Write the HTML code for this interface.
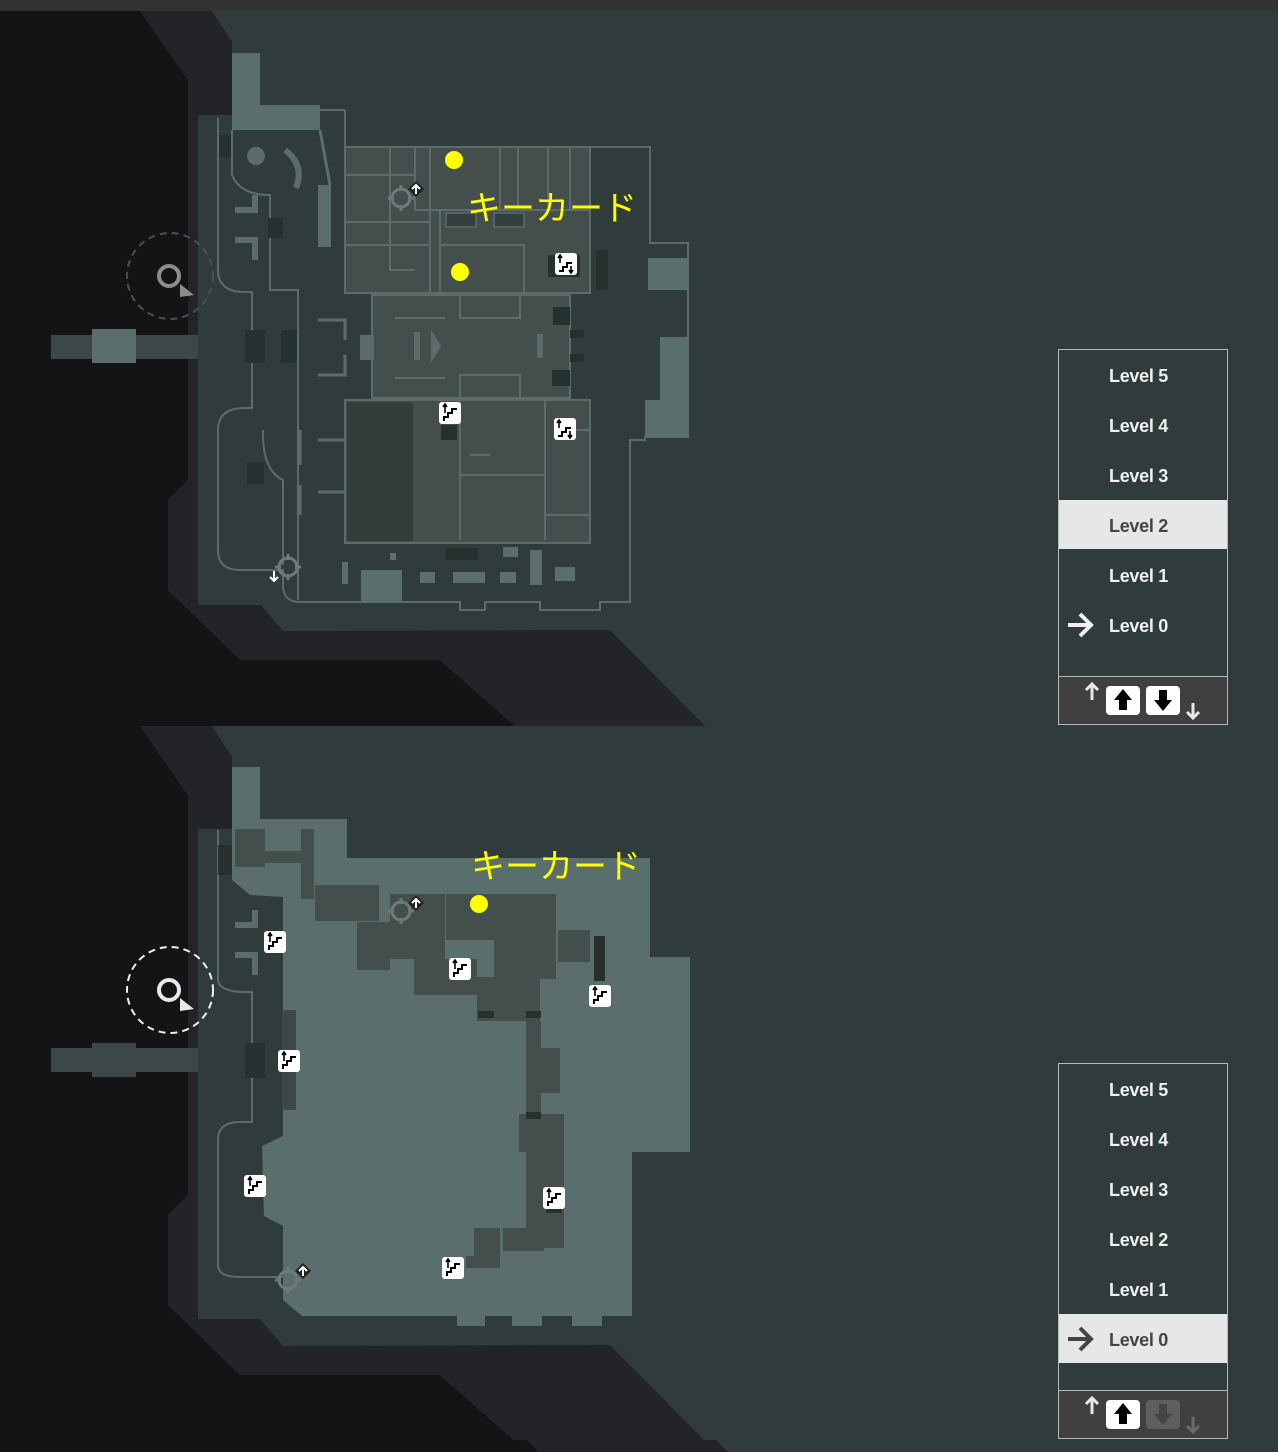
<!DOCTYPE html>
<html><head><meta charset="utf-8"><style>
html,body{margin:0;padding:0;background:#303c3b;}
svg{display:block}
.lv{font-family:"Liberation Sans",sans-serif;font-weight:bold;font-size:18px;fill:#f0f0f0;letter-spacing:-0.3px}
.jp{font-family:"Liberation Sans","Noto Sans CJK JP",sans-serif;font-size:34px;fill:#ffff00}
</style></head><body>
<svg width="1278" height="1452" viewBox="0 0 1278 1452" xmlns="http://www.w3.org/2000/svg">
<defs>
<g id="stair">
<rect x="-11" y="-11" width="22" height="22" rx="3" fill="#fff"/>
<path d="M-7,7 h4 v-4 h4 v-4 h5" fill="none" stroke="#000" stroke-width="2"/>
<path d="M-6,-1 v-7 M-8,-6 l2,-3 l2,3" fill="none" stroke="#000" stroke-width="1.6"/>
<path d="M5,2 v6 M3,6 l2,3 l2,-3" fill="none" stroke="#000" stroke-width="1.6"/>
</g>
<g id="stairU">
<rect x="-11" y="-11" width="22" height="22" rx="3" fill="#fff"/>
<path d="M-6,8 v-4 h4 v-4 h4 v-4 h5" fill="none" stroke="#000" stroke-width="2"/>
<path d="M-5,0 v-8 M-7,-6 l2,-3 l2,3" fill="none" stroke="#000" stroke-width="1.6"/>
</g>
<g id="cross">
<circle r="9" fill="none" stroke="#6e7a79" stroke-width="3"/>
<path d="M0,-13 v6 M0,7 v6 M-13,0 h6 M7,0 h6" stroke="#6e7a79" stroke-width="3"/>
</g>
<g id="bg">
<polygon points="0,0 140,0 188,69 188,469 168,489 168,579 240,649 440,649 515,715 0,715" fill="#141416"/>
<polygon points="140,0 212,0 232,31 232,560 283,620 610,619 705,715 515,715 440,649 240,649 168,579 168,489 188,469 188,69" fill="#232428"/>
</g>
</defs>
<rect x="0" y="0" width="1278" height="11" fill="#323232"/>
<rect x="0" y="11" width="1278" height="1441" fill="#303c3b"/>
<use href="#bg" transform="translate(0,11)"/>
<use href="#bg" transform="translate(0,726)"/>
<polygon points="0,1440 527,1440 539,1452 0,1452" fill="#141416"/>
<polygon points="527,1440 716,1440 728,1452 539,1452" fill="#232428"/>

<!-- ===== TOP MAP ===== -->
<g>
<rect x="51" y="335" width="170" height="24" fill="#3c4847"/>
<rect x="92" y="329" width="44" height="34" fill="#5a6e6c"/>
<rect x="198" y="115" width="102" height="490" fill="#303c3b"/>
<polygon points="232,53 260,53 260,105 320,105 320,130 232,130" fill="#5a6e6c"/>
<rect x="318" y="185" width="13" height="62" fill="#5a6e6c"/>
<path d="M320,130 L330,185" stroke="#5a6e6c" stroke-width="3"/>
<path d="M218,118 V270 Q218,292 245,292 H252 V408 H245 Q218,408 218,430 V550 Q218,570 240,570 H283 V585 Q283,602 300,602 H460 V610 H485 V602 H540 V610 H600 V602 H630 V440 H645 V437 H688 V243 H650 V147 H590" fill="none" stroke="#5b6c6a" stroke-width="2"/>
<path d="M232,130 V175 Q240,195 270,195 V290 H298 V600" fill="none" stroke="#5b6c6a" stroke-width="2"/>
<path d="M345,110 V147 M320,110 H345" fill="none" stroke="#5b6c6a" stroke-width="2"/>
<path d="M263,430 Q262,470 283,480 V565" fill="none" stroke="#5b6c6a" stroke-width="2"/>
<rect x="648" y="258" width="40" height="32" fill="#5a6e6c"/>
<rect x="660" y="337" width="28" height="100" fill="#5a6e6c"/>
<rect x="645" y="400" width="43" height="37" fill="#5a6e6c"/>
<rect x="596" y="250" width="12" height="40" fill="#26302f"/>
<rect x="345" y="147" width="245" height="146" fill="#434e4d" stroke="#5b6c6a" stroke-width="2"/>
<rect x="372" y="295" width="198" height="103" fill="#434e4d" stroke="#5b6c6a" stroke-width="2"/>
<rect x="360" y="335" width="14" height="25" fill="#5b6c6a"/>
<rect x="345" y="400" width="245" height="143" fill="#434e4d" stroke="#5b6c6a" stroke-width="2"/>
<rect x="347" y="402" width="66" height="139" fill="#323d3c"/>
<path d="M390,147 V270 M415,147 V210 M430,147 V293 M440,210 V293 M500,147 V210 M518,147 V210 M548,147 V210 M570,147 V210 M345,175 H415 M345,222 H430 M345,245 H430 M390,222 V270 H415 M440,245 H524 V293 M415,210 H590 M460,295 V318 H520 V295 M460,398 V375 H520 V398 M460,400 V540 M545,400 V540 M460,475 H545 M470,455 H490 M395,318 H445 M395,378 H445 M555,430 H590 M545,515 H590" fill="none" stroke="#5b6c6a" stroke-width="2"/>
<rect x="446" y="213" width="30" height="14" fill="#34403f" stroke="#5b6c6a" stroke-width="1.5"/>
<rect x="494" y="213" width="30" height="14" fill="#34403f" stroke="#5b6c6a" stroke-width="1.5"/>
<path d="M420,333 h-5 v26 h5 M432,333 l8,13 l-8,13z M543,335 h-5 v22 h5" fill="#5b6c6a" stroke="#5b6c6a" stroke-width="2"/>
<path d="M318,320 H345 V340 M318,375 H345 V355 M318,440 H345 M318,492 H345 M300,430 V465 M300,485 V515" fill="none" stroke="#5b6c6a" stroke-width="3"/>
<path d="M235,210 H255 V195 M235,240 H255 V260" fill="none" stroke="#5b6c6a" stroke-width="6"/>
<circle cx="256" cy="156" r="9" fill="#5b6c6a"/>
<path d="M285,150 Q305,165 296,188" fill="none" stroke="#5b6c6a" stroke-width="6"/>
<g fill="#26302f">
<rect x="219" y="135" width="12" height="22"/><rect x="268" y="218" width="15" height="20"/>
<rect x="245" y="330" width="20" height="33"/><rect x="281" y="330" width="16" height="33"/>
<rect x="247" y="462" width="17" height="22"/><rect x="553" y="307" width="17" height="18"/>
<rect x="552" y="370" width="18" height="16"/><rect x="570" y="330" width="14" height="8"/>
<rect x="570" y="354" width="14" height="8"/><rect x="441" y="425" width="16" height="15"/>
<rect x="446" y="548" width="32" height="12"/><rect x="548" y="255" width="32" height="22"/>
</g>
<g fill="#5a6e6c">
<rect x="361" y="570" width="41" height="32"/><rect x="420" y="572" width="15" height="11"/>
<rect x="453" y="572" width="32" height="11"/><rect x="500" y="572" width="16" height="11"/>
<rect x="555" y="567" width="20" height="14"/><rect x="530" y="550" width="12" height="35"/>
<rect x="390" y="553" width="6" height="7"/><rect x="342" y="562" width="6" height="22"/>
<rect x="503" y="547" width="15" height="10"/>
</g>
<circle cx="454" cy="160" r="9" fill="#ffff00"/>
<circle cx="460" cy="272" r="9" fill="#ffff00"/>
<text x="467" y="220" class="jp">キーカード</text>
<use href="#stair" x="566" y="264"/>
<use href="#stairU" x="450" y="413"/>
<use href="#stair" x="565" y="429"/>
<use href="#cross" x="401" y="198"/>
<path d="M416,181 l8,8 l-8,8 l-8,-8z" fill="#222"/><path d="M416,194 v-9 M412,189 l4,-4 l4,4" stroke="#fff" stroke-width="2" fill="none"/>
<use href="#cross" x="288" y="567"/>
<path d="M274,571 v9 M270,577 l4,4 l4,-4" stroke="#fff" stroke-width="2" fill="none"/>
<circle cx="170" cy="276" r="43" fill="none" stroke="#4a4f52" stroke-width="2" stroke-dasharray="7,5"/>
<circle cx="169" cy="276" r="10" fill="none" stroke="#8a8c8e" stroke-width="4"/>
<polygon points="180,284 194,295 180,297" fill="#8a8c8e"/>
</g>

<!-- ===== BOTTOM MAP ===== -->
<g>
<rect x="51" y="1048" width="170" height="24" fill="#3c4847"/>
<rect x="92" y="1043" width="44" height="34" fill="#3c4847"/>
<rect x="198" y="829" width="102" height="490" fill="#303c3b"/>
<polygon points="232,767 260,767 260,819 347,819 347,858 650,858 650,957 690,957 690,1152 632,1152 632,1316 302,1316 283,1300 283,1226 264,1216 262,1146 283,1136 283,897 250,895 232,880" fill="#5a6e6c"/>
<g fill="#5a6e6c"><rect x="457" y="1316" width="28" height="10"/><rect x="512" y="1316" width="30" height="10"/><rect x="572" y="1316" width="30" height="10"/></g>
<path d="M218,830 V980 Q218,990 240,992 H252 V1122 H240 Q218,1122 218,1140 V1265 Q218,1277 240,1277 H283" fill="none" stroke="#5b6c6a" stroke-width="2"/>
<rect x="245" y="1043" width="20" height="35" fill="#26302f"/>
<rect x="218" y="845" width="14" height="30" fill="#26302f"/>
<path d="M235,925 H255 V910 M235,955 H255 V975" fill="none" stroke="#5b6c6a" stroke-width="6"/>
<rect x="282" y="1010" width="14" height="100" fill="#3c4847"/>
<g fill="#444e4d">
<rect x="235" y="829" width="30" height="38"/><rect x="265" y="851" width="36" height="12"/>
<rect x="301" y="829" width="13" height="70"/><rect x="315" y="885" width="64" height="36"/>
<rect x="357" y="922" width="33" height="48"/><rect x="390" y="894" width="55" height="65"/>
<rect x="414" y="959" width="63" height="36"/><rect x="446" y="894" width="48" height="46"/>
<rect x="494" y="894" width="62" height="85"/><rect x="558" y="930" width="32" height="32"/>
<rect x="477" y="977" width="63" height="44"/><rect x="526" y="1021" width="15" height="227"/>
<rect x="541" y="1048" width="19" height="45"/><rect x="519" y="1114" width="45" height="38"/>
<rect x="528" y="1152" width="36" height="96"/><rect x="474" y="1228" width="26" height="28"/>
<rect x="503" y="1228" width="41" height="23"/><rect x="466" y="1256" width="34" height="12"/>
</g>
<g fill="#26302f"><rect x="594" y="936" width="11" height="45"/><rect x="478" y="1011" width="16" height="7"/><rect x="526" y="1011" width="15" height="7"/><rect x="526" y="1112" width="15" height="7"/><rect x="546" y="1201" width="16" height="12"/></g>
<circle cx="479" cy="904" r="9" fill="#ffff00"/>
<text x="471" y="878" class="jp">キーカード</text>
<use href="#stairU" x="275" y="942"/><use href="#stairU" x="460" y="969"/>
<use href="#stairU" x="600" y="996"/><use href="#stairU" x="289" y="1061"/>
<use href="#stairU" x="255" y="1186"/><use href="#stairU" x="554" y="1198"/>
<use href="#stairU" x="453" y="1268"/>
<use href="#cross" x="401" y="911"/>
<path d="M416,895 l8,8 l-8,8 l-8,-8z" fill="#222"/><path d="M416,908 v-9 M412,903 l4,-4 l4,4" stroke="#fff" stroke-width="2" fill="none"/>
<use href="#cross" x="288" y="1280"/>
<path d="M303,1263 l8,8 l-8,8 l-8,-8z" fill="#222"/><path d="M303,1276 v-9 M299,1271 l4,-4 l4,4" stroke="#fff" stroke-width="2" fill="none"/>
<circle cx="170" cy="990" r="43" fill="none" stroke="#f0f0f0" stroke-width="2" stroke-dasharray="7,5"/>
<circle cx="169" cy="990" r="10" fill="none" stroke="#e8e8e8" stroke-width="4"/>
<polygon points="180,998 194,1009 180,1011" fill="#e8e8e8"/>
</g>

<!-- ===== LEVEL PANELS ===== -->
<g>
<rect x="1058.5" y="349.5" width="169" height="375" fill="#303c3b" stroke="#b8b8b8"/>
<rect x="1059" y="500" width="168" height="49" fill="#e6e7e8"/>
<rect x="1059" y="677" width="168" height="47" fill="#403f41"/>
<line x1="1059" y1="676.5" x2="1227" y2="676.5" stroke="#b8b8b8"/>
<text x="1109" y="382" class="lv">Level 5</text>
<text x="1109" y="432" class="lv">Level 4</text>
<text x="1109" y="482" class="lv">Level 3</text>
<text x="1109" y="532" class="lv" style="fill:#444">Level 2</text>
<text x="1109" y="582" class="lv">Level 1</text>
<text x="1109" y="632" class="lv">Level 0</text>
<path d="M1068,625 H1090 M1080,614 L1091,625 L1080,636" stroke="#f0f0f0" stroke-width="4" fill="none"/>
<path d="M1092,700 V685 M1086,690 L1092,684 L1098,690" stroke="#e8e8e8" stroke-width="3" fill="none"/>
<rect x="1106" y="686" width="34" height="29" rx="4" fill="#fff"/>
<polygon points="1123,689 1114,700 1119,700 1119,710 1127,710 1127,700 1132,700" fill="#000"/>
<rect x="1146" y="686" width="34" height="29" rx="4" fill="#fff"/>
<polygon points="1163,711 1154,700 1159,700 1159,690 1167,690 1167,700 1172,700" fill="#000"/>
<path d="M1193,703 V718 M1187,712 L1193,718 L1199,712" stroke="#e8e8e8" stroke-width="3" fill="none"/>
</g>
<g>
<rect x="1058.5" y="1063.5" width="169" height="375" fill="#303c3b" stroke="#b8b8b8"/>
<rect x="1059" y="1314" width="168" height="49" fill="#e6e7e8"/>
<rect x="1059" y="1391" width="168" height="47" fill="#403f41"/>
<line x1="1059" y1="1390.5" x2="1227" y2="1390.5" stroke="#b8b8b8"/>
<text x="1109" y="1096" class="lv">Level 5</text>
<text x="1109" y="1146" class="lv">Level 4</text>
<text x="1109" y="1196" class="lv">Level 3</text>
<text x="1109" y="1246" class="lv">Level 2</text>
<text x="1109" y="1296" class="lv">Level 1</text>
<text x="1109" y="1346" class="lv" style="fill:#444">Level 0</text>
<path d="M1068,1339 H1090 M1080,1328 L1091,1339 L1080,1350" stroke="#444" stroke-width="4" fill="none"/>
<path d="M1092,1414 V1399 M1086,1404 L1092,1398 L1098,1404" stroke="#e8e8e8" stroke-width="3" fill="none"/>
<rect x="1106" y="1400" width="34" height="29" rx="4" fill="#fff"/>
<polygon points="1123,1403 1114,1414 1119,1414 1119,1424 1127,1424 1127,1414 1132,1414" fill="#000"/>
<rect x="1146" y="1400" width="34" height="29" rx="4" fill="#5e5e60"/>
<polygon points="1163,1425 1154,1414 1159,1414 1159,1404 1167,1404 1167,1414 1172,1414" fill="#444446"/>
<path d="M1193,1417 V1432 M1187,1426 L1193,1432 L1199,1426" stroke="#6a6a6c" stroke-width="3" fill="none"/>
</g>
</svg>
</body></html>
